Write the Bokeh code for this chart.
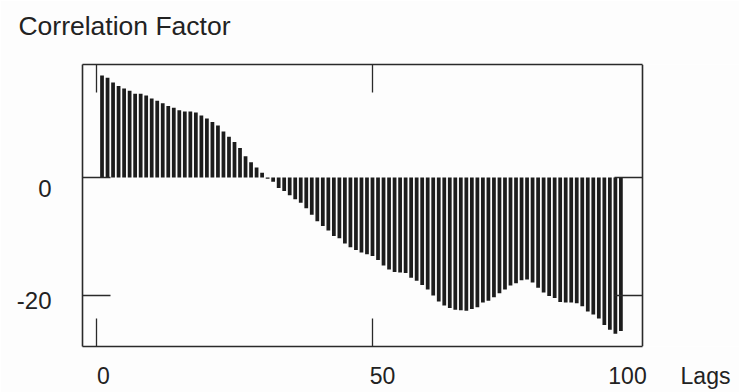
from bokeh.plotting import figure
from bokeh.models import Range1d, LinearAxis, FixedTicker, Span
from bokeh.embed import file_html
from bokeh.resources import INLINE

# ---- data ----
lags = list(range(1, 96))
correlation = [
    17.3, 16.9, 16.1, 15.5, 15.1, 14.7, 14.2, 14.2, 13.9, 13.4,
    13.0, 12.6, 12.1, 11.8, 11.4, 11.2, 11.2, 11.0, 10.5, 10.0,
    9.4, 8.8, 7.8, 6.9, 6.0, 5.0, 3.6, 2.6, 1.7, 0.8,
    -0.2, -0.7, -1.8, -2.3, -3.0, -3.7, -4.3, -5.2, -6.3, -7.4,
    -8.2, -9.0, -9.9, -10.3, -11.2, -11.8, -12.3, -12.7, -13.0, -13.3,
    -14.0, -14.9, -15.6, -16.0, -16.1, -16.2, -17.0, -17.5, -18.2, -19.0,
    -20.0, -21.0, -21.7, -22.1, -22.4, -22.5, -22.6, -22.3, -22.0, -21.2,
    -20.9, -20.3, -19.6, -19.0, -18.3, -17.9, -17.4, -17.3, -17.8, -18.7,
    -19.5, -20.1, -20.4, -21.1, -21.2, -21.2, -21.3, -21.8, -22.7, -23.2,
    -23.9, -25.0, -25.8, -26.5, -26.0,
]
x_ticks = [0, 50]
y_ticks = [0, -20]
x_tick_labels = ["0", "50", "100"]
y_tick_labels = ["0", "-20"]
title_text = "Correlation Factor"
x_title = "Lags"

# ---- layout (canvas pixels) ----
W, H = 739, 392
FL, FT, FB = 82, 64, 346          # frame edges (frame runs to the right edge)
BOX_R = 642                        # right edge of the drawn box
X0_PX, PX_PER_X = 96, 5.52         # x=0 position and scale
x_lo = (FL - X0_PX) / PX_PER_X
x_hi = (W - X0_PX) / PX_PER_X
x_box = (BOX_R - X0_PX) / PX_PER_X
TICK_LEN = 28

p = figure(width=W, height=H, output_backend="svg", toolbar_location=None,
           x_range=Range1d(x_lo, x_hi), y_range=Range1d(-28.64, 19.15),
           x_axis_location=None, y_axis_location=None)
p.title.visible = False
p.min_border_left = FL
p.min_border_right = 0
p.min_border_top = FT
p.min_border_bottom = H - FB
p.grid.visible = False
p.background_fill_color = "#fdfdfd"
p.border_fill_color = "#fdfdfd"
p.outline_line_color = None

# helper ranges in canvas pixels, used only to place the text labels
p.extra_x_ranges = {"px": Range1d(FL, W)}
p.extra_y_ranges = {"py": Range1d(FB, FT)}

LINE = "#2a2a2a"
ink = "#1c1c1c"

p.vbar(x=lags, top=correlation, bottom=0, width=0.68,
       fill_color=ink, line_color=None)

def tick_axis(ticks, bounds="auto"):
    ax = LinearAxis(ticker=FixedTicker(ticks=ticks), bounds=bounds)
    ax.major_tick_in = TICK_LEN
    ax.major_tick_out = 0
    ax.minor_tick_line_color = None
    ax.major_tick_line_color = LINE
    ax.major_tick_line_width = 1.3
    ax.axis_line_color = LINE
    ax.axis_line_width = 1.6
    ax.major_label_text_font_size = "0px"
    ax.major_label_text_color = None
    ax.major_label_standoff = 0
    return ax

FONT = "Liberation Sans"
TXT = "#222222"

def label_axis(positions, labels, standoff, size, **kw):
    ax = LinearAxis(ticker=FixedTicker(ticks=positions), **kw)
    ax.major_label_overrides = {pos: lab for pos, lab in zip(positions, labels)}
    ax.major_tick_line_color = None
    ax.minor_tick_line_color = None
    ax.axis_line_color = None
    ax.major_tick_in = 0
    ax.major_tick_out = 0
    ax.major_label_standoff = standoff
    ax.major_label_text_font = FONT
    ax.major_label_text_font_size = size
    ax.major_label_text_color = TXT
    return ax

p.add_layout(tick_axis(y_ticks), "left")
p.add_layout(tick_axis(x_ticks, bounds=(x_lo, x_box)), "below")
p.add_layout(tick_axis(x_ticks, bounds=(x_lo, x_box)), "above")

# right edge of the box and its inward ticks
p.add_layout(Span(location=x_box, dimension="height", line_color=LINE, line_width=1.6))
p.segment(x0=[x_box - TICK_LEN / PX_PER_X] * len(y_ticks), x1=[x_box] * len(y_ticks),
          y0=y_ticks, y1=y_ticks, line_color=LINE, line_width=1.3)

# y tick labels (slightly below their ticks, as in the scan)
p.add_layout(label_axis([188, 300], y_tick_labels, 31, "24px", y_range_name="py"), "left")
# x tick labels and the x title on one row
p.add_layout(label_axis([103, 382, 627, 705], x_tick_labels + [x_title], 16, "23px",
                        x_range_name="px"), "below")
# chart title at the top-left
p.add_layout(label_axis([124], [title_text], 24, "26.5px", x_range_name="px"), "above")

open("out.html", "w").write(file_html(p, INLINE))
